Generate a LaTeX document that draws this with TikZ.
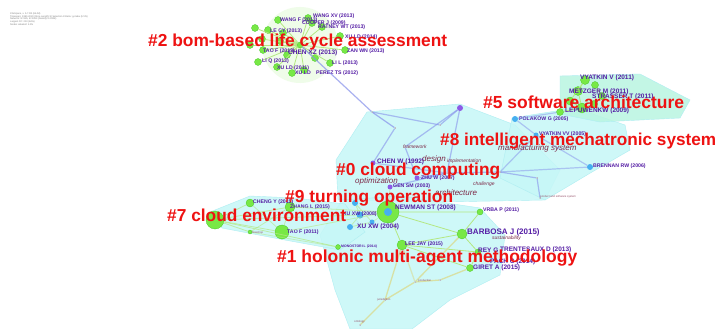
\documentclass[tikz,border=0pt]{standalone}
\usepackage{fontspec}
\setmainfont{Liberation Sans}
\usepackage{graphicx}
\definecolor{hullc}{RGB}{198,247,247}
\definecolor{hulle}{RGB}{175,238,242}
\definecolor{greenn}{RGB}{120,232,70}
\definecolor{greend}{RGB}{70,200,40}
\definecolor{purn}{RGB}{140,90,230}
\definecolor{bluen}{RGB}{70,175,240}
\definecolor{labc}{RGB}{85,30,165}
\definecolor{kwc}{RGB}{125,40,70}
\definecolor{redl}{RGB}{238,18,18}
\definecolor{gedge}{RGB}{180,232,130}
\definecolor{ledge}{RGB}{135,145,235}
\definecolor{bedge}{RGB}{215,225,165}
\tikzset{
  hull/.style={fill=hullc, draw=hulle, line width=0.4pt, fill opacity=0.85},
  gn/.style={circle, inner sep=0pt, minimum size=#1, fill=greenn, draw=greend, line width=0.3pt},
  gn/.default=7pt,
  pn/.style={circle, inner sep=0pt, minimum size=#1, fill=purn},
  pn/.default=5pt,
  bn/.style={circle, inner sep=0pt, minimum size=#1, fill=bluen},
  bn/.default=6pt,
  dotn/.style={circle, inner sep=0pt, minimum size=1.5pt, fill=kwc!60},
  lab/.style={anchor=west, inner sep=0pt, text=labc, font=\bfseries\fontsize{5.2}{6}\selectfont},
  labm/.style={lab, font=\bfseries\fontsize{6.5}{7}\selectfont},
  labb/.style={lab, font=\bfseries\fontsize{8}{9}\selectfont},
  kw/.style={anchor=west, inner sep=0pt, text=kwc, font=\itshape\fontsize{5}{6}\selectfont},
  kwb/.style={kw, font=\itshape\fontsize{8}{9}\selectfont},
  tiny/.style={anchor=west, inner sep=0pt, text=kwc!80, font=\fontsize{2.8}{3}\selectfont},
  clab/.style={anchor=west, inner sep=0pt, text=redl, font=\bfseries},
  ge/.style={draw=gedge, line width=0.8pt},
  le/.style={draw=ledge, line width=1.2pt},
  be/.style={draw=bedge, line width=1.3pt},
  hdr/.style={anchor=west, inner sep=0pt, text=gray, font=\fontsize{2.4}{2.6}\selectfont, align=left},
}
\begin{document}
\begin{tikzpicture}[x=1pt,y=-1pt]
\useasboundingbox (0,0) rectangle (717,329);
\fill[white] (0,0) rectangle (717,329);

% header
\node[hdr] (hdr) at (10,19) {CiteSpace, v. 5.7.R2 (64-bit)\\Timespan: 1990-2020 (Slice Length=1) Selection Criteria: g-index (k=25)\\Network: N=325, E=1093 (Density=0.0208)\\Largest CC: 210 (64\%)\\Nodes Labeled: 1.0\%};

% ---------- hulls ----------
\path[hull] (367,112) -- (460,104) -- (515,125) -- (560,170) -- (545,200) -- (440,202) -- (338,200) -- (336,160) -- cycle;
\path[hull] (512,118) -- (575,108) -- (625,125) -- (630,150) -- (592,172) -- (545,200) -- (500,178) -- cycle;
\path[hull, fill={rgb,255:red,185;green,245;blue,225}] (560,76) -- (640,74) -- (690,100) -- (680,118) -- (600,122) -- (560,114) -- cycle;
\path[hull] (342,200) -- (400,196) -- (480,208) -- (505,235) -- (500,275) -- (450,300) -- (412,329) -- (350,329) -- (335,290) -- (320,235) -- cycle;
\path[hull] (210,212) -- (250,196) -- (295,198) -- (345,204) -- (365,232) -- (340,250) -- (285,240) -- (222,228) -- cycle;
\fill[greenn!12] (300,45) circle[radius=38pt];

% ---------- cluster #2 ----------
\node[gn=6pt] (c2) at (300,45) {};
\foreach \n/\x/\y in {a/278/20, b/308/18, c/312/23, d/322/27, e/268/30, f/283/33, g/262/39, h/280/41, i/263/50, j/287/55, k/258/62, l/277/67, m/292/73, n/330/63, o/340/36, p/345/50, q/304/70, r/315/58, s/250/45, t/255/28}
  {\node[gn=7pt] (d2\n) at (\x,\y) {};}
\foreach \n in {a,b,c,d,e,f,g,h,i,j,k,l,m,n,o,p,q,r,s,t}
  {\draw[ge] (c2) -- (d2\n);}
\node[lab] (t2a) at (313,16) {WANG XV (2013)};
\node[lab] (t2b) at (280,20) {WANG F (2013)};
\node[lab] (t2c) at (302,23) {COOPER J (2009)};
\node[lab] (t2d) at (318,27) {RATNEY WT (2013)};
\node[lab] (t2e) at (270,31) {LE CY (2013)};
\node[lab] (t2f) at (345,37) {XU LD (2014)};
\node[lab] (t2g) at (263,51) {TAO F (2013)};
\node[lab] (t2h) at (347,51) {ZAN WN (2013)};
\node[lab] (t2i) at (262,61) {LI Q (2013)};
\node[lab] (t2j) at (332,63) {LI L (2013)};
\node[lab] (t2k) at (277,68) {XU LD (2011)};
\node[lab] (t2l) at (295,73) {XU LD};
\node[lab] (t2m) at (316,73) {PEREZ TS (2012)};
\node[labm] (t2n) at (288,53) {CHEN XZ (2013)};

% ---------- cluster #0 / #8 ----------
\node[dotn] (k0a) at (395,128) {};
\node[dotn] (k0b) at (405,147) {};
\node[dotn] (k0c) at (447,173) {};
\node[dotn] (k0d) at (500,172) {};
\node[dotn] (k0e) at (540,198) {};
\node[dotn] (k0f) at (372,112) {};
\node[dotn] (k0g) at (537,178) {};
\node[dotn] (k0h) at (440,125) {};
\node[pn=6pt] (p0a) at (460,108) {};
\node[pn] (p0b) at (373,163) {};
\node[pn] (p0c) at (417,178) {};
\node[pn] (p0d) at (390,187) {};
\node[bn] (b8a) at (515,119) {};
\node[bn=5pt] (b8b) at (536,135) {};
\node[bn] (b8c) at (590,167) {};
\draw[le, opacity=0.7] (c2) -- (k0f) -- (k0a);
\draw[le, opacity=0.6] (p0a) -- (k0b);
\draw[le, opacity=0.6] (p0a) -- (k0c);
\draw[le, opacity=0.6] (k0f) -- (k0h) -- (p0a);
\draw[le, opacity=0.6] (k0a) -- (p0b);
\draw[le, opacity=0.6] (k0b) -- (p0c) -- (k0c);
\draw[le, opacity=0.6] (k0c) -- (k0d) -- (k0g) -- (k0e);
\draw[le, opacity=0.6] (p0d) -- (k0c);
\draw[le, opacity=0.5] (b8a) -- (b8b) -- (k0d);
\draw[le, opacity=0.5] (b8b) -- (b8c);
\draw[le, opacity=0.5] (k0d) -- (b8c);
\draw[le, opacity=0.5] (p0b) -- (k0c);
\node[kw] (kw1) at (403,147) {framework};
\node[kwb] (kw2) at (422,159) {design};
\node[kw] (kw3) at (447,161) {implementation};
\node[labm] (t0a) at (377,162) {CHEN W (1992)};
\node[kwb] (kw4) at (355,181) {optimization};
\node[lab] (t0b) at (393,186) {GEN SM (2003)};
\node[lab] (t0c) at (421,178) {ZHU W (2007)};
\node[kwb] (kw5) at (435,193) {architecture};
\node[kw] (kw6) at (473,184) {challenge};
\node[kwb] (kw7) at (498,148) {manufacturing system};
\node[lab] (t8a) at (519,119) {POLAKOW G (2005)};
\node[lab] (t8b) at (539,134) {VYATKIN VV (2005)};
\node[lab] (t8c) at (593,166) {BRENNAN RW (2006)};
\node[tiny] (ty1) at (540,197) {product and software system};

% ---------- cluster #5 ----------
\foreach \n/\x/\y/\s in {a/585/80/9pt, b/595/85/7pt, c/578/91/9pt, d/602/96/7pt, e/570/101/8pt, f/582/108/10pt, g/594/104/7pt, h/560/112/7pt}
  {\node[gn=\s] (d5\n) at (\x,\y) {};}
\draw[ge] (d5a) -- (d5c) -- (d5f) -- (d5h);
\draw[ge] (d5b) -- (d5d) -- (d5g) -- (d5f);
\draw[ge] (d5a) -- (d5e) -- (d5f);
\draw[le, opacity=0.5] (d5h) -- (b8a);
\node[labm] (t5a) at (580,78) {VYATKIN V (2011)};
\node[labm] (t5b) at (569,92) {METZGER M (2011)};
\node[labm] (t5c) at (592,97) {STRASSER T (2011)};
\node[labm] (t5d) at (565,111) {LEPUWENKW (2009)};

% ---------- cluster #7 ----------
\node[gn=18pt] (g7a) at (215,220) {};
\node[gn=8pt] (g7b) at (250,203) {};
\node[gn=10pt] (g7c) at (290,207) {};
\node[gn=14pt] (g7d) at (282,232) {};
\node[gn=4pt] (g7e) at (250,232) {};
\node[gn=5pt] (g7f) at (338,247) {};
\foreach \t in {g7b,g7c,g7d,g7e,g7f}{\draw[ge, opacity=0.7] (g7a) -- (\t);}
\draw[ge, opacity=0.6] (g7b) -- (g7d) -- (g7c) -- (g7e);
\draw[ge, opacity=0.5] (g7e) -- (g7f);
\node[lab] (t7a) at (253,202) {CHENG Y (2015)};
\node[lab] (t7b) at (290,207) {ZHANG L (2015)};
\node[lab] (t7c) at (287,232) {TAO F (2011)};
\node[tiny] (t7d) at (252,233) {flowshop};
\node[lab, font=\bfseries\fontsize{3.5}{4}\selectfont] (t7e) at (341,247) {MONOSTORI L (2014)};

% ---------- cluster #9 / #1 ----------
\node[bn=6pt] (b9a) at (355,203) {};
\node[bn=7pt] (b9b) at (360,215) {};
\node[bn=6pt] (b9c) at (350,227) {};
\node[bn=5pt] (b9d) at (372,222) {};
\node[gn=22pt] (n1) at (388,212) {};
\node[circle, fill=bluen, inner sep=0pt, minimum size=8pt] (n1c) at (388,212) {};
\node[gn=10pt] (g1a) at (462,234) {};
\node[gn=10pt] (g1b) at (402,245) {};
\node[gn=6pt] (g1c) at (480,212) {};
\node[gn=7pt] (g1d) at (470,268) {};
\node[gn=6pt] (g1e) at (478,252) {};
\node[dotn] (k1a) at (385,300) {};
\node[dotn] (k1b) at (360,325) {};
\node[dotn] (k1c) at (415,282) {};
\node[dotn] (k1d) at (440,280) {};
\draw[ge, opacity=0.6] (g7a) -- (b9b);
\draw[ge, opacity=0.6] (g7c) -- (n1);
\draw[ge, opacity=0.6] (g7d) -- (n1);
\draw[ge] (n1) -- (g1a) -- (g1e) -- (g1d);
\draw[ge] (n1) -- (g1b) -- (g1a);
\draw[ge] (g1b) -- (g1d);
\draw[ge] (n1) -- (g1c) -- (g1a);
\draw[ge] (g1b) -- (g1e);
\draw[be] (g1b) -- (k1a) -- (k1b);
\draw[be] (k1a) -- (k1c) -- (g1a);
\draw[be] (k1c) -- (k1d) -- (g1d);
\draw[be, opacity=0.7] (g1b) -- (k1c);
\draw[ge, opacity=0.6] (b9a) -- (b9b) -- (b9c) -- (b9d) -- (b9a);
\draw[ge, opacity=0.5] (b9d) -- (n1);
\draw[ge, opacity=0.5] (n1) -- (p0d);
\node[labm] (t1a) at (395,208) {NEWMAN ST (2008)};
\node[lab] (t1b) at (483,210) {VRBA P (2011)};
\node[lab] (t9a) at (343,214) {XU XW (2008)};
\node[labm] (t9b) at (357,227) {XU XW (2004)};
\node[labb] (t1c) at (467,232) {BARBOSA J (2015)};
\node[kw] (kw8) at (492,238) {sustainability};
\node[lab] (t1d) at (405,244) {LEE JAY (2015)};
\node[labm] (t1e) at (478,250) {REY G};
\node[labm] (t1f) at (500,250) {TRENTESAUX D (2013)};
\node[labm] (t1g) at (490,262) {PACH C (2014)};
\node[labm] (t1h) at (473,268) {GIRET A (2015)};
\node[tiny] (t1i) at (418,281) {production};
\node[tiny] (t1j) at (377,300) {jurisdiction};
\node[tiny] (t1k) at (354,322) {ontology};

% ---------- cluster labels ----------
\node[clab] (L2) at (148,42) {\resizebox{299pt}{!}{\#2 bom-based life cycle assessment}};
\node[clab] (L5) at (483,102) {\resizebox{201pt}{!}{\#5 software architecture}};
\node[clab] (L8) at (440,141) {\resizebox{276pt}{!}{\#8 intelligent mechatronic system}};
\node[clab] (L0) at (336,171) {\resizebox{164pt}{!}{\#0 cloud computing}};
\node[clab] (L9) at (285,198) {\resizebox{168pt}{!}{\#9 turning operation}};
\node[clab] (L7) at (167,215) {\resizebox{179pt}{!}{\#7 cloud environment}};
\node[clab] (L1) at (277,258) {\resizebox{300pt}{!}{\#1 holonic multi-agent methodology}};
\end{tikzpicture}
\end{document}
